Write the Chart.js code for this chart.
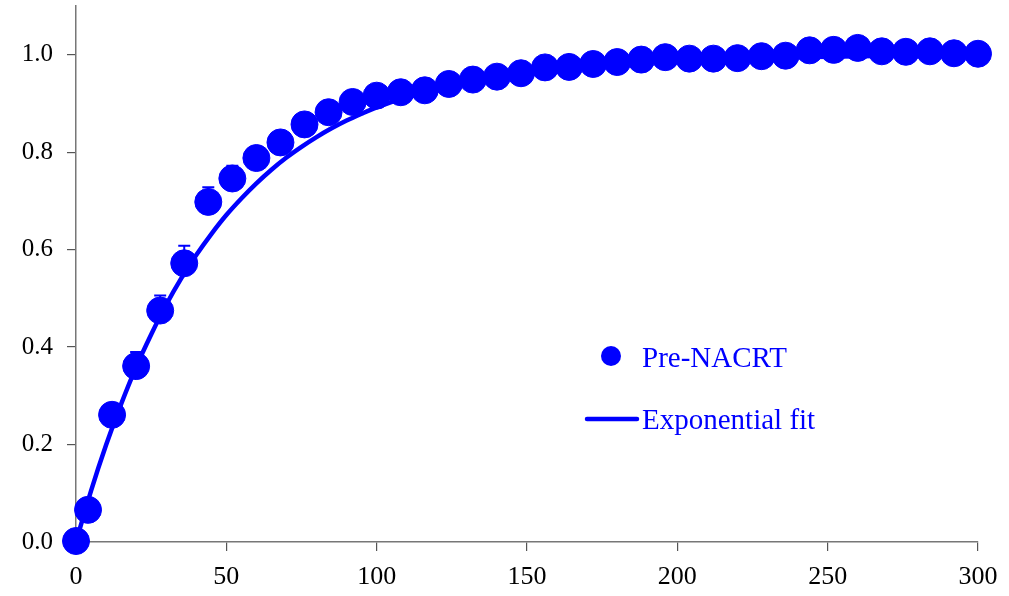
<!DOCTYPE html>
<html>
<head>
<meta charset="utf-8">
<script src="https://cdn.jsdelivr.net/npm/chart.js@4/dist/chart.umd.min.js"></script>
<style>
  html, body { margin: 0; padding: 0; background: #fff; }
  #wrap { width: 1009px; height: 596px; position: relative; }
</style>
</head>
<body>
<div id="wrap"><canvas id="c" width="1009" height="596"></canvas></div>
<script>
// Measured data (Pre-NACRT)
const timeX = [0, 4, 12, 20, 28, 36, 44, 52, 60, 68, 76, 84, 92, 100, 108, 116, 124, 132, 140, 148,
  156, 164, 172, 180, 188, 196, 204, 212, 220, 228, 236, 244, 252, 260, 268, 276, 284, 292, 300];
const preNacrt = [0.002, 0.066, 0.261, 0.361, 0.475, 0.572, 0.698, 0.746, 0.788, 0.820, 0.857, 0.882, 0.903,
  0.916, 0.923, 0.927, 0.940, 0.949, 0.955, 0.962, 0.974, 0.975, 0.981, 0.985, 0.990, 0.995,
  0.992, 0.992, 0.993, 0.997, 0.998, 1.009, 1.010, 1.014, 1.007, 1.006, 1.007, 1.003, 1.002];
const preNacrtErr = [0.0, 0.012, 0.022, 0.029, 0.031, 0.036, 0.030, 0.026, 0.022, 0.020, 0.018, 0.016, 0.015,
  0.014, 0.013, 0.012, 0.012, 0.011, 0.011, 0.010, 0.010, 0.010, 0.010, 0.010, 0.010, 0.010,
  0.010, 0.010, 0.010, 0.010, 0.010, 0.010, 0.010, 0.010, 0.010, 0.010, 0.010, 0.010, 0.010];

// Exponential fit curve
const fitX = [0, 5, 10, 15, 20, 25, 30, 35, 40, 45, 50, 55, 60, 65, 70, 75, 80, 85, 90, 95, 100,
  110, 120, 130, 140, 150, 160, 170, 180, 200, 220, 240, 260, 280, 300];
const fitY = [0.000, 0.105, 0.199, 0.283, 0.359, 0.426, 0.487, 0.541, 0.589, 0.632, 0.671, 0.705, 0.736,
  0.764, 0.789, 0.811, 0.831, 0.849, 0.865, 0.879, 0.892, 0.913, 0.930, 0.944, 0.955, 0.964,
  0.971, 0.977, 0.982, 0.988, 0.992, 0.995, 0.997, 0.998, 0.999];

// Axis ticks
const xTicks = [0, 50, 100, 150, 200, 250, 300];
const yTicks = [0, 0.2, 0.4, 0.6, 0.8, 1.0];

const legendLabels = ['Pre-NACRT', 'Exponential fit'];

const BLUE = '#0000ff';

const errorBarPlugin = {
  id: 'errorBars',
  beforeDatasetsDraw(chart) {
    const ctx = chart.ctx;
    const xs = chart.scales.x, ys = chart.scales.y;
    ctx.save();
    ctx.strokeStyle = BLUE;
    ctx.lineWidth = 2;
    timeX.forEach((t, i) => {
      const e = preNacrtErr[i];
      if (!e) return;
      const px = xs.getPixelForValue(t);
      const y0 = ys.getPixelForValue(preNacrt[i]);
      const y1 = ys.getPixelForValue(preNacrt[i] + e);
      ctx.beginPath();
      ctx.moveTo(px, y0);
      ctx.lineTo(px, y1);
      ctx.moveTo(px - 6, y1);
      ctx.lineTo(px + 6, y1);
      ctx.stroke();
    });
    ctx.restore();
  }
};

const legendPlugin = {
  id: 'customLegend',
  afterDraw(chart) {
    const ctx = chart.ctx;
    ctx.save();
    ctx.fillStyle = BLUE;
    ctx.strokeStyle = BLUE;
    ctx.beginPath();
    ctx.arc(611, 356, 10, 0, Math.PI * 2);
    ctx.fill();
    ctx.lineWidth = 4.5;
    ctx.lineCap = 'round';
    ctx.beginPath();
    ctx.moveTo(587, 419);
    ctx.lineTo(637, 419);
    ctx.stroke();
    ctx.font = '29px "Liberation Serif", "Times New Roman", serif';
    ctx.textBaseline = 'alphabetic';
    ctx.textAlign = 'left';
    ctx.fillText(legendLabels[0], 642, 367);
    ctx.fillText(legendLabels[1], 642, 429);
    ctx.restore();
  }
};

const serif = '"Liberation Serif", "Times New Roman", serif';

new Chart(document.getElementById('c'), {
  type: 'scatter',
  data: {
    datasets: [
      {
        label: legendLabels[0],
        data: timeX.map((x, i) => ({ x: x, y: preNacrt[i] })),
        backgroundColor: BLUE,
        borderColor: BLUE,
        borderWidth: 1,
        pointRadius: 13.5,
        pointHoverRadius: 13.5,
        showLine: false,
        clip: false,
        order: 0
      },
      {
        label: legendLabels[1],
        data: fitX.map((x, i) => ({ x: x, y: fitY[i] })),
        borderColor: BLUE,
        backgroundColor: BLUE,
        borderWidth: 4.5,
        pointRadius: 0,
        showLine: true,
        cubicInterpolationMode: 'monotone',
        clip: false,
        order: 1
      }
    ]
  },
  options: {
    responsive: false,
    animation: false,
    devicePixelRatio: 1,
    layout: { autoPadding: false, padding: { left: 0, right: 31, top: 6, bottom: 0 } },
    plugins: { legend: { display: false }, tooltip: { enabled: false } },
    scales: {
      x: {
        type: 'linear',
        min: 0, max: 300,
        afterFit(scale) { scale.height = 54; scale.paddingLeft = 0; scale.paddingRight = 0; },
        afterBuildTicks(scale) { scale.ticks = xTicks.map(v => ({ value: v })); },
        grid: { drawOnChartArea: false, drawTicks: true, tickLength: 9, color: '#555', lineWidth: 1.2 },
        border: { display: true, color: '#777', width: 1.5 },
        ticks: { color: '#000', font: { family: serif, size: 26 }, padding: 11, maxRotation: 0, callback: v => String(v) }
      },
      y: {
        type: 'linear',
        min: 0, max: 1.1,
        afterFit(scale) { scale.width = 76; scale.paddingTop = 0; scale.paddingBottom = 0; },
        afterBuildTicks(scale) { scale.ticks = yTicks.map(v => ({ value: v })); },
        grid: { drawOnChartArea: false, drawTicks: true, tickLength: 9, color: '#555', lineWidth: 1.2 },
        border: { display: true, color: '#777', width: 1.5 },
        ticks: { color: '#000', font: { family: serif, size: 25 }, padding: 14, callback: v => Number(v).toFixed(1) }
      }
    }
  },
  plugins: [errorBarPlugin, legendPlugin]
});
</script>
</body>
</html>
